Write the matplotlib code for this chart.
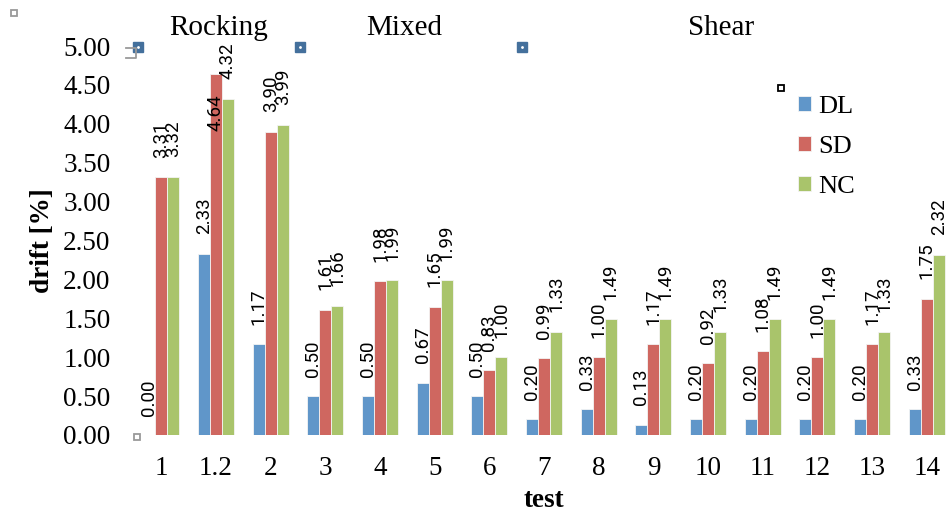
import matplotlib
matplotlib.use("Agg")
import matplotlib.pyplot as plt
import numpy as np

tests = ["1", "1.2", "2", "3", "4", "5", "6", "7", "8", "9", "10", "11", "12", "13", "14"]
dl = [0.00, 2.33, 1.17, 0.50, 0.50, 0.67, 0.50, 0.20, 0.33, 0.13, 0.20, 0.20, 0.20, 0.20, 0.33]
sd = [3.31, 4.64, 3.90, 1.61, 1.98, 1.65, 0.83, 0.99, 1.00, 1.17, 0.92, 1.08, 1.00, 1.17, 1.75]
nc = [3.32, 4.32, 3.99, 1.66, 1.99, 1.99, 1.00, 1.33, 1.49, 1.49, 1.33, 1.49, 1.49, 1.33, 2.32]
series_names = ["DL", "SD", "NC"]
yticks = [0.0, 0.5, 1.0, 1.5, 2.0, 2.5, 3.0, 3.5, 4.0, 4.5, 5.0]
regions = ["Rocking", "Mixed", "Shear"]

COLORS = ["#6096C9", "#CF6760", "#A9C46B"]
SERIF = ["Liberation Serif", "DejaVu Serif"]
LABEL_FONT = ["Roboto", "DejaVu Sans"]

fig = plt.figure(figsize=(9.49, 5.14), dpi=100)
ax = fig.add_axes([0.1412, 0.1537, 0.8588, 0.7568])

x = np.arange(len(tests))
width = 0.22
ymax = 5.0

for i, (name, vals) in enumerate(zip(series_names, [dl, sd, nc])):
    pos = x + (i - 1) * width
    ax.bar(pos, vals, width=width, color=COLORS[i], edgecolor="#f4f4f4",
           linewidth=0.6, label=name)
    for xp, v in zip(pos, vals):
        # label would run past the top of the plot -> put it inside the bar
        if v + 0.68 > ymax:
            ax.annotate(f"{v:.2f}", (xp, v), xytext=(0, -15), textcoords="offset points",
                        rotation=90, ha="center", va="top", fontsize=13.5,
                        family=LABEL_FONT)
        else:
            ax.annotate(f"{v:.2f}", (xp, v), xytext=(0, 14), textcoords="offset points",
                        rotation=90, ha="center", va="bottom", fontsize=13.5,
                        family=LABEL_FONT)

ax.set_xlim(-0.5, (949 - 161) / 54.7)
ax.set_ylim(0, ymax)
ax.set_xticks(x)
ax.set_xticklabels(tests, fontsize=19.5, family=SERIF)
ax.set_yticks(yticks)
ax.set_yticklabels([f"{t:.2f}" for t in yticks], fontsize=19.5, family=SERIF)
ax.tick_params(axis="x", length=0, pad=15)
ax.tick_params(axis="y", length=0, pad=17)
for sp in ax.spines.values():
    sp.set_visible(False)

ax.set_xlabel("test", fontsize=19.5, fontweight="bold", family=SERIF)
ax.xaxis.set_label_coords((544 - 134) / (949 - 134), -0.135)
ax.set_ylabel("drift [%]", fontsize=19.5, fontweight="bold", family=SERIF)
ax.yaxis.set_label_coords(-0.097, 0.5)

leg = ax.legend(loc="upper left", bbox_to_anchor=(785 / 949, 1 - 83 / 514),
                bbox_transform=fig.transFigure, frameon=False, borderpad=0,
                handlelength=0.5, handleheight=0.5, handletextpad=0.25,
                labelspacing=0.68, prop={"family": SERIF, "size": 19})

for name, xc in zip(regions, [219, 404, 721]):
    fig.text(xc / 949, 1 - 35 / 514, name, ha="center", va="baseline",
             fontsize=21, family=SERIF)

# little handles left over from the original drawing
for xc in [138, 300, 522]:
    fig.lines.append(plt.Line2D([xc / 949], [1 - 47 / 514], transform=fig.transFigure,
                                marker="s", markersize=7.5, color="#44709C", linestyle=""))
    fig.lines.append(plt.Line2D([xc / 949], [1 - 47 / 514], transform=fig.transFigure,
                                marker=".", markersize=2, color="white", linestyle=""))
for (xc, yc, col) in [(14, 13, "#9a9a9a"), (781, 88, "black"), (137, 437, "#9a9a9a")]:
    fig.lines.append(plt.Line2D([xc / 949], [1 - yc / 514], transform=fig.transFigure,
                                marker="s", markersize=5, markerfacecolor="white",
                                markeredgecolor=col, markeredgewidth=1.3, linestyle=""))
fig.lines.append(plt.Line2D([126 / 949, 136 / 949, 136 / 949, 126 / 949],
                            [1 - 48 / 514, 1 - 48 / 514, 1 - 58 / 514, 1 - 58 / 514],
                            transform=fig.transFigure, color="#9a9a9a", linewidth=1.3))

fig.savefig("out.png", dpi=100)
